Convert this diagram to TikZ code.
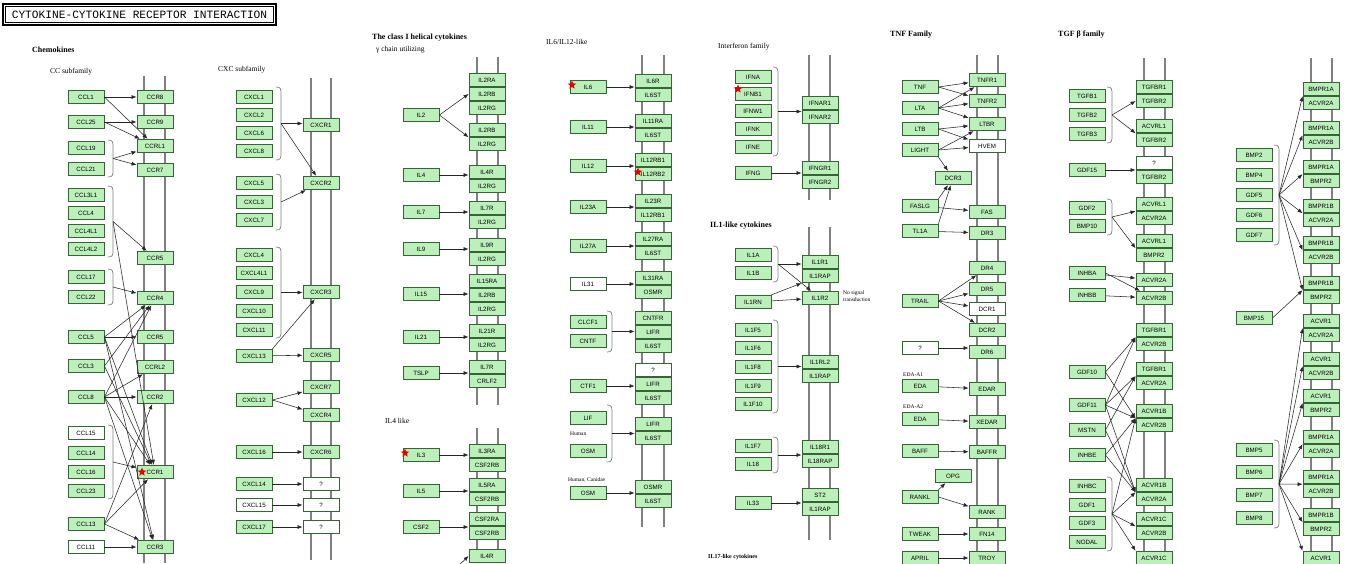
\documentclass[tikz,border=0pt]{standalone}
\usepackage{fontspec}
\setmainfont{Liberation Serif}
\setsansfont{Liberation Sans}
\setmonofont{Liberation Mono}
\usetikzlibrary{arrows.meta,shapes.geometric}
\definecolor{kfill}{RGB}{188,240,186}
\definecolor{kbord}{RGB}{55,100,55}
\newcommand\genefont{\sffamily\fontsize{6.2}{6.5}\selectfont}
\newcommand\kbrk[4]{%
  \draw[brk] (#2,#3) .. controls ({#2+5},#3) and ({#2+5},{#3+2}) .. ({#2+5},{#3+8}) -- ({#2+5},{#4-8}) .. controls ({#2+5},{#4-2}) and ({#2+5},#4) .. (#2,#4);
  \coordinate (#1) at ({#2+5},{(#3+#4)/2});}
\tikzset{
  gene/.style={draw=kbord, fill=kfill, line width=0.9pt, minimum width=36pt, minimum height=13.5pt, inner sep=0pt, font=\genefont},
  wgene/.style={gene, fill=white},
  arr/.style={-{Latex[length=5pt,width=4pt]}, line width=0.55pt, draw=black!85},
  mem/.style={draw=black!50, line width=2.2pt},
  brk/.style={draw=black!50, line width=0.7pt},
  redstar/.style={star, star points=5, star point ratio=2.3, fill=red!90!black, draw=none, minimum size=9pt, inner sep=0pt},
  lab/.style={anchor=west, inner sep=0pt, font=\fontsize{7.5}{8}\selectfont},
  blab/.style={anchor=west, inner sep=0pt, font=\bfseries\fontsize{8}{8}\selectfont},
  slab/.style={anchor=west, inner sep=0pt, font=\fontsize{5.5}{6}\selectfont},
}
\begin{document}
\begin{tikzpicture}[x=1pt,y=-1pt]
\fill[white] (0,0) rectangle (1351,563);
\useasboundingbox (0,0) rectangle (1351,563);
% title
\draw[line width=1.3pt] (3,4) rectangle (276,25);
\draw[line width=0.4pt] (5.5,6.5) rectangle (273.5,22.5);
\node[font=\ttfamily\fontsize{11.2}{12}\selectfont, inner sep=0] (title) at (139.5,15) {CYTOKINE-CYTOKINE RECEPTOR INTERACTION};
% membranes
\foreach \x/\a/\b in {144/76/563, 165/76/563, 311/78/560, 331/78/560, 477/57/405, 498/57/405, 477/428/563, 498/428/563, 642/55/527, 664/55/527, 809/55/200, 830/55/200, 809/227/540, 830/227/540, 977/55/563, 998/55/563, 1144/58/563, 1165/58/563, 1311/58/563, 1332/58/563}
  \draw[mem] (\x,\a) -- (\x,\b);
% labels
\node[blab] (tChem) at (32,50) {Chemokines};
\node[lab] (tCC) at (50,72) {CC subfamily};
\node[lab] (tCXC) at (218,70) {CXC subfamily};
\node[blab] (tHel) at (372,38) {The class I helical cytokines};
\node[lab] (tGam) at (376,50) {γ chain utilizing};
\node[lab] (tIL4) at (385,421) {IL4 like};
\node[lab] (tIL6) at (546,42) {IL6/IL12-like};
\node[lab] (tIFN) at (718,47) {Interferon family};
\node[blab] (tIL1) at (710,226) {IL1-like cytokines};
\node[slab] (tNo1) at (843,293) {No signal};
\node[slab] (tNo2) at (843,300) {transduction};
\node[blab] (tTNF) at (890,35) {TNF Family};
\node[blab] (tTGF) at (1058,35) {TGF β family};
\node[slab] (tHum) at (570,434) {Human};
\node[slab] (tHC) at (568,480) {Human, Canidae};
\node[slab] (tE1) at (903,375) {EDA-A1};
\node[slab] (tE2) at (903,407) {EDA-A2};
\node[anchor=west, inner sep=0pt, font=\bfseries\fontsize{6}{6}\selectfont] (tCut) at (708,557) {IL17-like cytokines};
% brackets
\kbrk{bA}{108}{140}{177}
\kbrk{bB}{108}{186}{257}
\kbrk{bC}{108}{269}{305}
\kbrk{bD}{108}{425}{499}
\kbrk{bE}{276}{87}{160}
\kbrk{bF}{276}{174}{230}
\kbrk{bG}{276}{247}{338}
\kbrk{bH}{607}{311}{352}
\kbrk{bI}{607}{405}{462}
\kbrk{bJ}{773}{67}{156}
\kbrk{bK}{773}{246}{282}
\kbrk{bL}{773}{320}{413}
\kbrk{bM}{773}{437}{473}
\kbrk{bN}{1107}{87}{143}
\kbrk{bO}{1107}{199}{235}
\kbrk{bP}{1107}{477}{551}
\kbrk{bQ}{1274}{145}{245}
\kbrk{bR}{1274}{440}{528}
% ---------- CC chemokines
\foreach \n/\y/\t in {c1/97/CCL1, c2/122/CCL25, c3/148/CCL19, c4/169/CCL21, c5/195/CCL3L1, c6/213/CCL4, c7/231/CCL4L1, c8/249/CCL4L2, c9/277/CCL17, c10/297/CCL22, c11/337/CCL5, c12/366/CCL3, c13/397/CCL8, c15/453/CCL14, c16/472/CCL16, c17/491/CCL23, c18/524/CCL13}
  \node[gene] (\n) at (86,\y) {\t};
\node[wgene] (c14) at (86,433) {CCL15};
\node[wgene] (c19) at (86,547) {CCL11};
\foreach \n/\y/\t in {r1/97/CCR8, r2/122/CCR9, r3/146/CCRL1, r4/170/CCR7, r5/258/CCR5, r6/298/CCR4, r7/337/CCR5, r8/367/CCRL2, r9/397/CCR2, r10/472/CCR1, r11/547/CCR3}
  \node[gene] (\n) at (155,\y) {\t};
\draw[arr] (c1) -- (r1);
\draw[arr] (c1.east) -- (r3);
\draw[arr] (c2) -- (r2);
\draw[arr] (c2.east) -- (r3);
\draw[arr] (bA) -- (r3);
\draw[arr] (bA) -- (r4);
\draw[arr] (bB) -- (r5);
\draw[arr] (bB) -- (r10);
\draw[arr] (bC) -- (r6);
\draw[arr] (c11) -- (r7);
\draw[arr] (c11.east) -- (r6);
\draw[arr] (c11.east) -- (r10);
\draw[arr] (c11.east) -- (r11);
\draw[arr] (c12.east) -- (r6);
\draw[arr] (c12.east) -- (r10);
\draw[arr] (c13) -- (r9);
\draw[arr] (c13.east) -- (r8);
\draw[arr] (c13.east) -- (r6);
\draw[arr] (c13.east) -- (r10);
\draw[arr] (c13.east) -- (r11);
\draw[arr] (bD) -- (r10);
\draw[arr] (c18.east) -- (r10);
\draw[arr] (c18.east) -- (r11);
\draw[arr] (c18.east) -- (r9);
\draw[arr] (c19) -- (r11);
% ---------- CXC chemokines
\foreach \n/\y/\t in {x1/97/CXCL1, x2/115/CXCL2, x3/133/CXCL6, x4/151/CXCL8, x5/183/CXCL5, x6/202/CXCL3, x7/220/CXCL7, x8/255/CXCL4, x9/273/CXCL4L1, x10/292/CXCL9, x11/311/CXCL10, x12/330/CXCL11, x13/356/CXCL13, x14/400/CXCL12, x15/452/CXCL16, x16/484/CXCL14, x18/527/CXCL17}
  \node[gene] (\n) at (254,\y) {\t};
\node[wgene] (x17) at (254,505) {CXCL15};
\foreach \n/\y/\t in {y1/125/CXCR1, y2/183/CXCR2, y3/292/CXCR3, y4/355/CXCR5, y5/387/CXCR7, y6/415/CXCR4, y7/452/CXCR6}
  \node[gene] (\n) at (321,\y) {\t};
\foreach \n/\y in {y8/484, y9/505, y10/527}
  \node[wgene] (\n) at (321,\y) {?};
\draw[arr] (bE) -- (bE -| y1.west);
\draw[arr] (bE) -- (y2);
\draw[arr] (bF) -- (y2);
\draw[arr] (bG) -- (bG -| y3.west);
\draw[arr] (x13) -- (y4);
\draw[arr] (x13.north east) -- (y3);
\draw[arr] (x14.east) -- (y5);
\draw[arr] (x14.east) -- (y6);
\draw[arr] (x15) -- (y7);
\draw[arr] (x16) -- (y8);
\draw[arr] (x17) -- (y9);
\draw[arr] (x18) -- (y10);
% ---------- class I helical
\foreach \n/\y/\t in {a1/80/IL2RA, a2/94/IL2RB, a3/108/IL2RG, a4/130/IL2RB, a5/144/IL2RG, a6/172/IL4R, a7/186/IL2RG, a8/208/IL7R, a9/222/IL2RG, a10/245/IL9R, a11/259/IL2RG, a12/281/IL15RA, a13/295/IL2RB, a14/309/IL2RG, a15/331/IL21R, a16/345/IL2RG, a17/367/IL7R, a18/381/CRLF2, a19/451/IL3RA, a20/465/CSF2RB, a21/485/IL5RA, a22/499/CSF2RB, a23/519/CSF2RA, a24/533/CSF2RB, a25/556/IL4R}
  \node[gene] (\n) at (487,\y) {\t};
\foreach \n/\y/\t in {l1/115/IL2, l2/175/IL4, l3/212/IL7, l4/249/IL9, l5/294/IL15, l6/337/IL21, l7/373/TSLP, l8/455/IL3, l9/491/IL5, l10/527/CSF2}
  \node[gene] (\n) at (421,\y) {\t};
\draw[arr] (l1.east) -- (a2.west);
\draw[arr] (l1.east) -- (a4.south west);
\draw[arr] (l2) -- (l2 -| a6.west);
\draw[arr] (l3) -- (l3 -| a8.west);
\draw[arr] (l4) -- (l4 -| a10.west);
\draw[arr] (l5) -- (l5 -| a12.west);
\draw[arr] (l6) -- (l6 -| a15.west);
\draw[arr] (l7) -- (l7 -| a17.west);
\draw[arr] (l8) -- (l8 -| a19.west);
\draw[arr] (l9) -- (l9 -| a21.west);
\draw[arr] (l10) -- (l10 -| a23.west);
\coordinate (ilx) at (452,572);
\draw[arr] (ilx) -- (a25.west);
% ---------- IL6/IL12-like
\foreach \n/\y/\t in {d1/81/IL6R, d2/95/IL6ST, d3/121/IL11RA, d4/135/IL6ST, d5/160/IL12RB1, d6/174/IL12RB2, d7/201/IL23R, d8/215/IL12RB1, d9/239/IL27RA, d10/253/IL6ST, d11/278/IL31RA, d12/292/OSMR, d13/318/CNTFR, d14/332/LIFR, d15/346/IL6ST, d17/384/LIFR, d18/398/IL6ST, d19/424/LIFR, d20/438/IL6ST, d21/487/OSMR, d22/501/IL6ST}
  \node[gene] (\n) at (653,\y) {\t};
\node[wgene] (d16) at (653,370) {?};
\foreach \n/\y/\t in {e1/87/IL6, e2/127/IL11, e3/166/IL12, e4/207/IL23A, e5/246/IL27A, e7/322/CLCF1, e8/341/CNTF, e9/386/CTF1, e10/418/LIF, e11/451/OSM, e12/493/OSM}
  \node[gene] (\n) at (588,\y) {\t};
\node[wgene] (e6) at (588,284) {IL31};
\draw[arr] (e1) -- (e1 -| d1.west);
\draw[arr] (e2) -- (e2 -| d3.west);
\draw[arr] (e3) -- (e3 -| d5.west);
\draw[arr] (e4) -- (e4 -| d7.west);
\draw[arr] (e5) -- (e5 -| d9.west);
\draw[arr] (e6) -- (e6 -| d11.west);
\draw[arr] (bH) -- (bH -| d14.west);
\draw[arr] (e9) -- (e9 -| d17.west);
\draw[arr] (bI) -- (bI -| d19.west);
\draw[arr] (e12) -- (e12 -| d21.west);
% ---------- Interferon
\foreach \n/\y/\t in {f1/103/IFNAR1, f2/117/IFNAR2, f3/168/IFNGR1, f4/182/IFNGR2}
  \node[gene] (\n) at (820,\y) {\t};
\foreach \n/\y/\t in {g1/77/IFNA, g2/94/IFNB1, g3/111/IFNW1, g4/129/IFNK, g5/147/IFNE, g6/173/IFNG}
  \node[gene] (\n) at (753,\y) {\t};
\draw[arr] (bJ) -- (bJ -| f1.west);
\draw[arr] (g6) -- (g6 -| f3.west);
% ---------- IL1-like
\foreach \n/\y/\t in {h1/262/IL1R1, h2/276/IL1RAP, h3/298/IL1R2, h4/362/IL1RL2, h5/376/IL1RAP, h6/447/IL18R1, h7/461/IL18RAP, h8/495/ST2, h9/509/IL1RAP}
  \node[gene] (\n) at (820,\y) {\t};
\foreach \n/\y/\t in {k1/255/IL1A, k2/273/IL1B, k3/302/IL1RN, k4/330/IL1F5, k5/348/IL1F6, k6/367/IL1F8, k7/386/IL1F9, k8/404/IL1F10, k9/446/IL1F7, k10/464/IL18, k11/503/IL33}
  \node[gene] (\n) at (753,\y) {\t};
\draw[arr] (bK) -- (bK -| h1.west);
\draw[arr] (bK) -- (h3);
\draw[arr] (k3) -- (h3);
\draw[arr] (k3.north east) -- (h2.south west);
\draw[arr] (bL) -- (bL -| h4.west);
\draw[arr] (bM) -- (bM -| h6.west);
\draw[arr] (k11) -- (k11 -| h8.west);
% ---------- TNF family
\foreach \n/\y/\t in {t1/80/TNFR1, t2/101/TNFR2, t3/124/LTBR, t5/212/FAS, t6/233/DR3, t7/268/DR4, t8/289/DR5, t10/330/DCR2, t11/352/DR6, t12/389/EDAR, t13/422/XEDAR, t14/452/BAFFR, t15/512/RANK, t16/534/FN14, t17/558/TROY}
  \node[gene] (\n) at (987,\y) {\t};
\node[wgene] (t4) at (987,146) {HVEM};
\node[wgene] (t9) at (987,309) {DCR1};
\node[gene] (t18) at (953,178) {DCR3};
\node[gene] (t19) at (953,476) {OPG};
\foreach \n/\y/\t in {u1/87/TNF, u2/108/LTA, u3/129/LTB, u4/150/LIGHT, u5/206/FASLG, u6/231/TL1A, u7/301/TRAIL, u9/386/EDA, u10/419/EDA, u11/451/BAFF, u12/497/RANKL, u13/534/TWEAK, u14/558/APRIL}
  \node[gene] (\n) at (920,\y) {\t};
\node[wgene] (u8) at (920,348) {?};
\draw[arr] (u1.east) -- (t1);
\draw[arr] (u1.east) -- (t2);
\draw[arr] (u2.east) -- (t1);
\draw[arr] (u2.east) -- (t2);
\draw[arr] (u2.east) -- (t3);
\draw[arr] (u3.east) -- (t3);
\draw[arr] (u3.east) -- (t4);
\draw[arr] (u4.east) -- (t3);
\draw[arr] (u4.east) -- (t4);
\draw[arr] (u4.south east) -- (t18);
\draw[arr] (u5) -- (t5);
\draw[arr] (u5.north east) -- (t18);
\draw[arr] (u6) -- (t6);
\draw[arr] (u6.north east) -- (t18);
\draw[arr] (u7.east) -- (t7);
\draw[arr] (u7.east) -- (t8);
\draw[arr] (u7.east) -- (t9);
\draw[arr] (u7.east) -- (t10);
\draw[arr] (u8) -- (u8 -| t11.west);
\draw[arr] (u9) -- (t12);
\draw[arr] (u10) -- (t13);
\draw[arr] (u11) -- (t14);
\draw[arr] (u12.north east) -- (t19);
\draw[arr] (u12.east) -- (t15);
\draw[arr] (u13) -- (t16);
\draw[arr] (u14) -- (t17);
% ---------- TGF beta family
\foreach \n/\y/\t in {s1a/87/TGFBR1, s1b/101/TGFBR2, s2a/126/ACVRL1, s2b/140/TGFBR2, s3b/177/TGFBR2, s4a/204/ACVRL1, s4b/218/ACVR2A, s5a/241/ACVRL1, s5b/255/BMPR2, s6/280/ACVR2A, s7/298/ACVR2B, s8a/330/TGFBR1, s8b/344/ACVR2B, s9a/369/TGFBR1, s9b/383/ACVR2A, s10a/411/ACVR1B, s10b/425/ACVR2B, s11a/485/ACVR1B, s11b/499/ACVR2A, s12a/519/ACVR1C, s12b/533/ACVR2B, s13/558/ACVR1C}
  \node[gene] (\n) at (1154,\y) {\t};
\node[wgene] (s3a) at (1154,163) {?};
\foreach \n/\y/\t in {v1/96/TGFB1, v2/115/TGFB2, v3/134/TGFB3, v4/170/GDF15, v5/208/GDF2, v6/226/BMP10, v7/273/INHBA, v8/295/INHBB, v9/372/GDF10, v10/405/GDF11, v11/430/MSTN, v12/455/INHBE, v13/486/INHBC, v14/505/GDF1, v15/523/GDF3, v16/542/NODAL}
  \node[gene] (\n) at (1087,\y) {\t};
\draw[arr] (bN) -- (s1b.west);
\draw[arr] (bN) -- (s2a.south west);
\draw[arr] (v4) -- (v4 -| s3a.west);
\draw[arr] (bO) -- (s4a.south west);
\draw[arr] (bO) -- (s5a.south west);
\draw[arr] (v7) -- (s6);
\draw[arr] (v7.east) -- (s7);
\draw[arr] (v8) -- (s7);
\draw[arr] (v9.east) -- (s8a.south west);
\draw[arr] (v9.east) -- (s10a.south west);
\draw[arr] (v10.east) -- (s8a.south west);
\draw[arr] (v10.east) -- (s9a.south west);
\draw[arr] (v10.east) -- (s10a.south west);
\draw[arr] (v10.east) -- (s11a.south west);
\draw[arr] (v11.east) -- (s9a.south west);
\draw[arr] (v11.east) -- (s11a.south west);
\draw[arr] (v12.east) -- (s10a.south west);
\draw[arr] (v12.east) -- (s11a.south west);
\draw[arr] (bP) -- (s10a.south west);
\draw[arr] (bP) -- (s11a.south west);
\draw[arr] (bP) -- (s12a.south west);
\draw[arr] (bP) -- (s13.north west);
% ---------- BMP
\foreach \i/\c/\ta/\tb in {1/96/BMPR1A/ACVR2A, 2/135/BMPR1A/ACVR2B, 3/174/BMPR1A/BMPR2, 4/213/BMPR1B/ACVR2A, 5/250/BMPR1B/ACVR2B, 6/290/BMPR1B/BMPR2, 7/328/ACVR1/ACVR2A, 8/366/ACVR1/ACVR2B, 9/403/ACVR1/BMPR2, 10/444/BMPR1A/ACVR2A, 11/484/BMPR1A/ACVR2B, 12/522/BMPR1B/BMPR2}
  {\node[gene] (w\i-a) at (1321,{\c-7}) {\ta};
   \node[gene] (w\i-b) at (1321,{\c+7}) {\tb};}
\node[gene] (w13-a) at (1321,558) {ACVR1};
\foreach \n/\y/\t in {m1/155/BMP2, m2/175/BMP4, m3/195/GDF5, m4/215/GDF6, m5/235/GDF7, m6/318/BMP15, m7/450/BMP5, m8/472/BMP6, m9/495/BMP7, m10/518/BMP8}
  \node[gene] (\n) at (1254,\y) {\t};
\foreach \i in {1,...,6}
  \draw[arr] (bQ) -- (w\i-a.south west);
\draw[arr] (m6.east) -- (w6-a.south west);
\foreach \i in {7,...,12}
  \draw[arr] (bR) -- (w\i-a.south west);
\draw[arr] (bR) -- (w13-a.north west);
% ---------- red stars
\node[redstar] (st1) at (142,472) {};
\node[redstar] (st2) at (405,453) {};
\node[redstar] (st3) at (572,85) {};
\node[redstar] (st4) at (638,172) {};
\node[redstar] (st5) at (738,89) {};
\end{tikzpicture}
\end{document}
